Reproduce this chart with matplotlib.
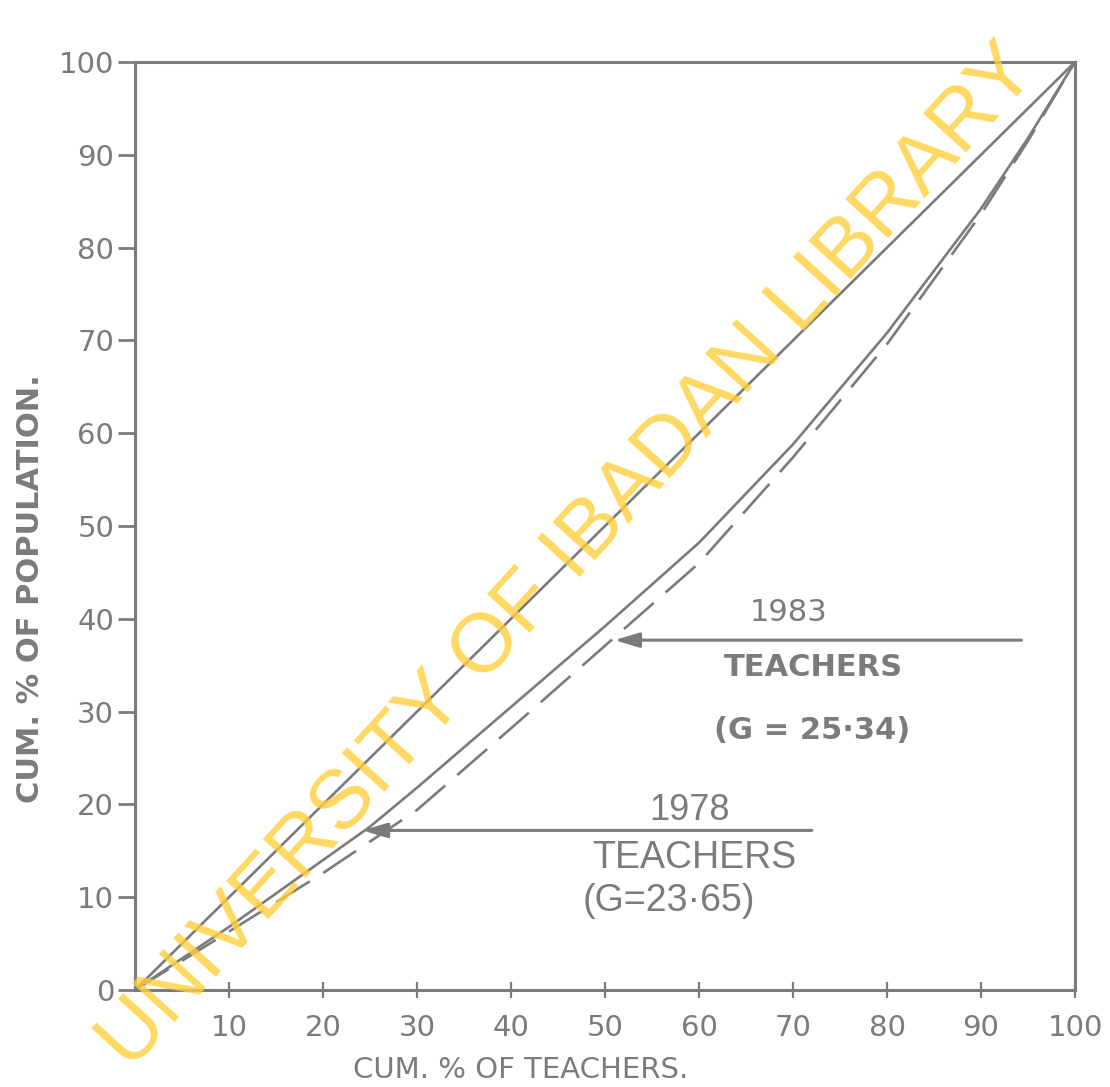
"""Lorenz curves of teacher distribution against population, 1978 and 1983."""

import matplotlib
matplotlib.use("Agg")
import matplotlib.pyplot as plt


# cumulative % of teachers vs cumulative % of population
CUM_TEACHERS = [0, 10, 20, 25, 30, 40, 50, 60, 70, 80, 90, 95, 100]
CUM_POP_1978 = [0, 6.8, 14.0, 17.6, 21.8, 30.5, 39.2, 48.2, 58.8, 70.8, 84.2, 91.8, 100]
CUM_POP_1983 = [0, 6.3, 12.6, 16.0, 19.4, 28.2, 37.1, 46.0, 57.4, 69.6, 83.6, 91.5, 100]
EQUALITY = [0, 100]

Y_TICKS = [0, 10, 20, 30, 40, 50, 60, 70, 80, 90, 100]
X_TICKS = [10, 20, 30, 40, 50, 60, 70, 80, 90, 100]

GINI_1978 = "23·65"
GINI_1983 = "25·34"

INK = "#7b7b7b"
plt.rcParams["font.family"] = ["DejaVu Sans"]

fig = plt.figure(figsize=(11.1, 10.87), dpi=100)
ax = fig.add_axes([0.1216, 0.0892, 0.8469, 0.8538])

ax.plot(EQUALITY, EQUALITY, color=INK, lw=1.9, solid_capstyle="round")
ax.plot(CUM_TEACHERS, CUM_POP_1978, color=INK, lw=1.9)
ax.plot(CUM_TEACHERS, CUM_POP_1983, color=INK, lw=1.9, dashes=(15, 6))

ax.set_xlim(0, 100)
ax.set_ylim(0, 100)
for spine in ax.spines.values():
    spine.set_color(INK)
    spine.set_linewidth(2.2)

ax.set_yticks(Y_TICKS)
ax.set_xticks(X_TICKS)
ax.tick_params(axis="y", direction="out", length=12, width=2, color=INK,
               labelcolor=INK, labelsize=21, pad=3)
ax.tick_params(axis="x", direction="inout", length=12, width=1.6, color=INK,
               labelcolor=INK, labelsize=21, pad=11)

ax.set_xlabel("CUM. % OF TEACHERS.", color=INK, fontsize=21)
ax.xaxis.set_label_coords(0.41, -0.071)
ax.set_ylabel("CUM. % OF POPULATION.", color=INK, fontsize=22, fontweight="bold")
ax.yaxis.set_label_coords(-0.096, 0.433)

# labels and arrows for the two curves
arrow = dict(arrowstyle="-|>,head_length=1.5,head_width=0.45", color=INK, lw=2.2,
             shrinkA=0, shrinkB=0)
ax.annotate("", xy=(51.0, 37.7), xytext=(94.3, 37.7), arrowprops=arrow)
ax.annotate("", xy=(24.2, 17.2), xytext=(72.0, 17.2), arrowprops=arrow)

ax.text(69.5, 40.7, "1983", color=INK, fontsize=22, ha="center", va="center")
ax.text(72.2, 34.7, "TEACHERS", color=INK, fontsize=22, fontweight="bold",
        ha="center", va="center")
ax.text(72.0, 28.0, f"(G = {GINI_1983})", color=INK, fontsize=22, fontweight="bold",
        ha="center", va="center")

ax.text(59.0, 19.3, "1978", color=INK, fontsize=26, family="Liberation Sans",
        ha="center", va="center")
ax.text(59.5, 14.2, "TEACHERS", color=INK, fontsize=27, family="Liberation Sans",
        ha="center", va="center")
ax.text(56.8, 9.6, f"(G={GINI_1978})", color=INK, fontsize=27, family="Liberation Sans",
        ha="center", va="center")

# library stamp across the page
fig.text(0.512, 0.487, "UNIVERSITY OF IBADAN LIBRARY", color="#FFCF3A", alpha=0.8,
         fontsize=60, family="Liberation Sans", rotation=47.7,
         rotation_mode="anchor", ha="center", va="center", zorder=10)

fig.savefig("out.png", dpi=100, facecolor="white")
